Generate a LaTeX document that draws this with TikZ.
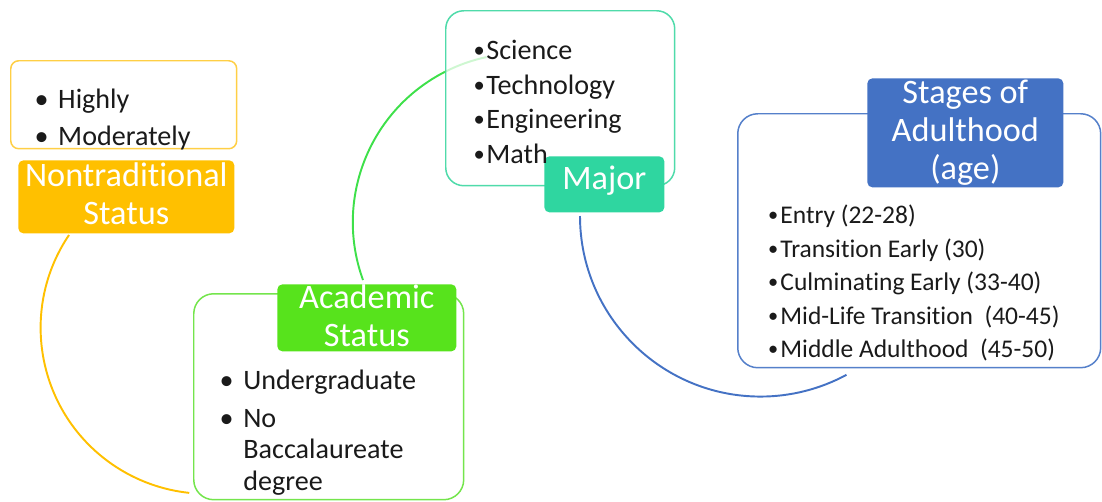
\documentclass[tikz,border=0pt]{standalone}
\usepackage{fontspec}
\setmainfont[Ligatures=NoCommon]{Carlito}
\definecolor{ylw}{HTML}{FFC000}
\definecolor{ylwout}{HTML}{FFCF45}
\definecolor{grn}{HTML}{57E31C}
\definecolor{grnout}{HTML}{74E54C}
\definecolor{grnarc}{HTML}{3EE04A}
\definecolor{tea}{HTML}{2FD6A0}
\definecolor{teaout}{HTML}{4FDBAA}
\definecolor{blu}{HTML}{4472C4}
\definecolor{bluout}{HTML}{5580CA}
\definecolor{txt}{HTML}{1A1A1A}
\newcommand\bulA{\makebox[13.5pt][l]{•}}
\newcommand\bulB{\makebox[8.3pt][c]{\raisebox{0.7pt}{\scalebox{0.8}{•}}}}
\begin{document}
\begin{tikzpicture}[x=0.02cm,y=0.02cm,
  outl/.style={draw, line width=0.85pt, fill=white, fill opacity=0.85, anchor=north west, inner sep=0pt},
  hdr/.style={rounded corners=0.1cm, anchor=north west, inner sep=0pt, text=white, align=center,
    font=\fontsize{19.5}{21.5}\selectfont},
  arcline/.style={line width=1.1pt},
  btxt/.style={anchor=base west, inner sep=0pt, text=txt, font=\fontsize{16}{19}\selectfont},
  stxt/.style={anchor=base west, inner sep=0pt, text=txt, font=\fontsize{14.5}{17}\selectfont}]
\useasboundingbox (0,0) rectangle (1102,-501);

% connectors (arcs)
\coordinate (ya) at (69,-235);
\coordinate (ga) at (363,-280);
\coordinate (ba) at (580,-216);
\draw[arcline, ylw] (ya) arc[start angle=146, end angle=264, radius=3.32cm] coordinate (yb);
\draw[arcline, grnarc] (ga) arc[start angle=200, end angle=117, radius=3.378cm] coordinate (gb);
\draw[arcline, blu] (ba) arc[start angle=180, end angle=298.4, radius=3.612cm] coordinate (bb);

% outline boxes
\node[outl, draw=ylwout, rounded corners=0.16cm, minimum width=4.52cm, minimum height=1.76cm] (ylo) at (10,-60) {};
\node[outl, draw=grnout, rounded corners=0.4cm, minimum width=5.4cm, minimum height=4.12cm] (aco) at (193,-293) {};
\node[outl, draw=teaout, rounded corners=0.36cm, minimum width=4.58cm, minimum height=3.5cm] (mjo) at (445,-10) {};
\node[outl, draw=bluout, rounded corners=0.4cm, minimum width=7.26cm, minimum height=5.08cm] (sto) at (737,-113) {};

% faded part of green arc inside Major box
\draw[arcline, grnarc, opacity=0.25] (gb) arc[start angle=117, end angle=102, radius=3.378cm];

% header boxes
\node[hdr, fill=ylw, minimum width=4.32cm, minimum height=1.46cm, text depth=3.4pt] (nt) at (18,-160) {Nontraditional\\Status};
\node[hdr, fill=grn, minimum width=3.58cm, minimum height=1.34cm, text depth=2.6pt] (ac) at (277,-284) {Academic\\Status};
\node[hdr, fill=tea, minimum width=2.4cm, minimum height=1.12cm, text depth=7.6pt] (mj) at (544,-156) {Major};
\node[hdr, fill=blu, minimum width=3.92cm, minimum height=2.18cm] (st) at (867,-78) {Stages of\\Adulthood\\(age)};

% bullet texts
\node[btxt] (y1) at (34.2,-108) {\bulA Highly};
\node[btxt] (y2) at (34.2,-145) {\bulA Moderately};

\node[btxt] (a1) at (219.2,-389) {\bulA Undergraduate};
\node[btxt] (a2) at (219.2,-427) {\bulA No};
\node[btxt] (a3) at (243,-458) {Baccalaureate};
\node[btxt] (a4) at (243,-490) {degree};

\node[btxt] (m1) at (471.5,-59) {\bulB Science};
\node[btxt] (m2) at (471.5,-94) {\bulB Technology};
\node[btxt] (m3) at (471.5,-128) {\bulB Engineering};
\node[btxt] (m4) at (471.5,-163) {\bulB Math};

\node[stxt] (s1) at (765.5,-223) {\bulB Entry (22-28)};
\node[stxt] (s2) at (765.5,-257) {\bulB Transition Early (30)};
\node[stxt] (s3) at (765.5,-290) {\bulB Culminating Early (33-40)};
\node[stxt] (s4) at (765.5,-324) {\bulB Mid-Life Transition\ \ (40-45)};
\node[stxt] (s5) at (765.5,-357) {\bulB Middle Adulthood\ \ (45-50)};
\end{tikzpicture}
\end{document}
